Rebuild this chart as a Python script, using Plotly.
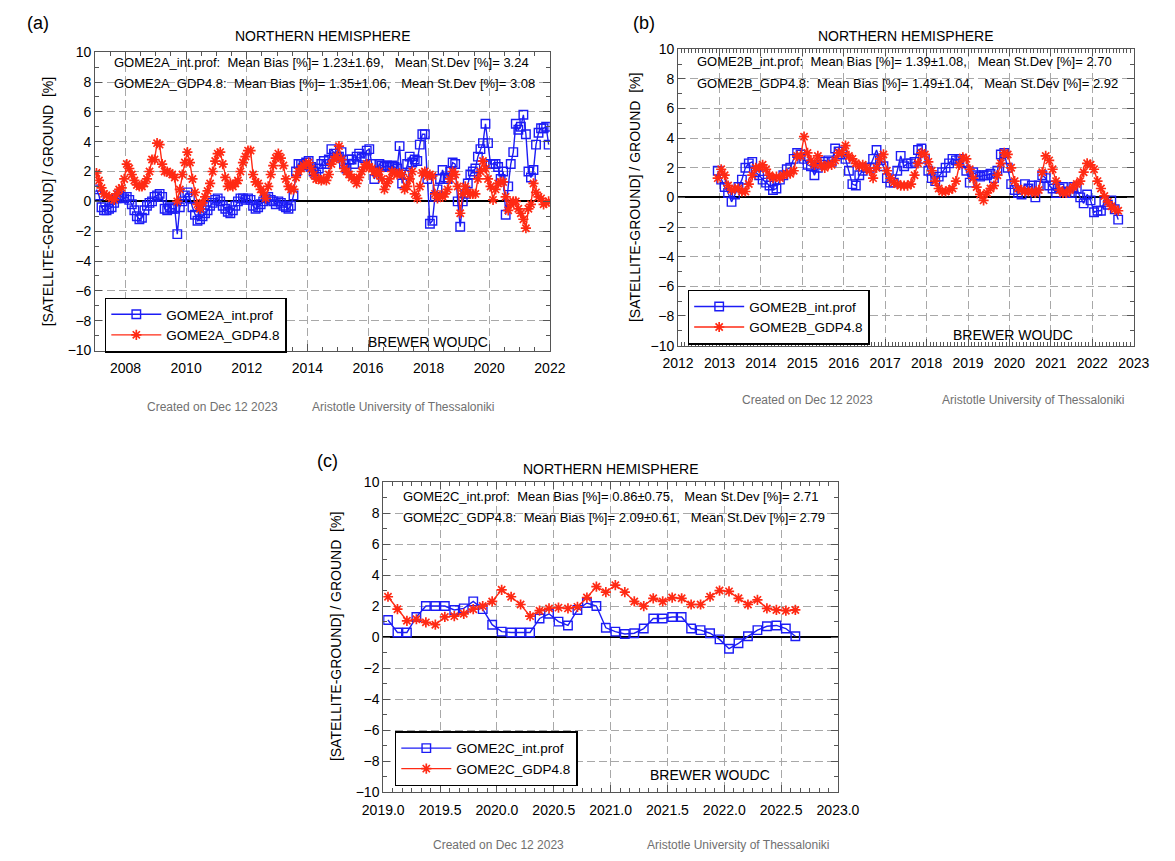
import plotly.graph_objects as go

W, H = 1175, 861
FONT = "Liberation Sans, Arial, Helvetica, sans-serif"
BLUE = "#1c1cf5"
RED = "#ff2a14"

# ---------------- data (monthly means) ----------------
# Panel (a): GOME2A, Jan 2007 - Dec 2021
a_start = (2007, 1)
a_int = [
    0.8, 0.4, -0.4, -0.6, -0.6, -0.5, -0.4, -0.1, 0.2, 0.4, 0.3, 0.2,
    0.3, 0.1, -0.2, -0.6, -1.0, -1.2, -1.1, -0.6, -0.3, -0.1, 0.0, 0.3,
    0.4, 0.5, 0.3, -0.5, -0.6, -0.4, -0.5, -0.5, -2.2, -0.4, 0.0, 0.4,
    0.6, 0.2, -0.4, -0.9, -1.3, -1.2, -1.0, -0.8, -0.6, -0.3, -0.1, 0.1,
    0.2, 0.0, -0.3, -0.5, -0.7, -0.8, -0.6, -0.3, 0.0, 0.2, 0.2, 0.1,
    0.2, 0.1, -0.3, -0.5, -0.4, -0.2, 0.0, 0.2, 0.3, 0.1, 0.0, -0.2,
    0.0, -0.1, -0.3, -0.4, -0.5, -0.3, 0.4, 2.0, 2.5, 2.5, 2.4, 2.6,
    2.7, 2.3, 2.0, 1.8, 2.2, 2.5, 2.7, 2.5, 2.8, 3.5, 3.2, 3.0,
    3.0, 3.3, 2.5, 2.2, 2.8, 2.8, 2.5, 3.0, 3.2, 3.0, 2.9, 3.4,
    3.5, 2.5, 1.5, 2.0, 2.5, 2.4, 2.3, 2.4, 2.3, 2.4, 2.3, 2.2,
    3.7, 1.2, 1.8, 2.5, 3.0, 2.6, 2.8, 2.7, 3.8, 4.5, 4.5, 1.5,
    -1.5, -1.3, 0.3, 0.8, 1.5, 2.1, 1.6, 1.5, 2.0, 2.6, 2.5, 0.0,
    -1.7, 0.0, 0.5, 1.2, 1.8, 2.0, 2.2, 3.0, 3.5, 3.9, 5.2, 3.9,
    2.5, 2.5, 2.5, 2.3, 1.5, 2.0, -0.9, 1.0, 2.5, 3.3, 5.2, 4.8,
    5.0, 5.8, 4.5, 2.0, 1.6, 2.1, 3.8, 4.6, 4.9, 4.9, 5.0, 3.8,
]
a_gdp = [
    1.9, 1.4, 0.9, 0.5, 0.4, 0.3, 0.2, 0.1, 0.5, 0.8, 0.9, 1.5,
    2.5, 2.2, 1.8, 1.4, 1.1, 1.0, 1.0, 1.2, 1.5, 2.0, 2.8, 2.8,
    3.9, 3.8, 2.5, 2.0, 2.0, 1.9, 1.8, 1.6, 0.0, 0.8, 1.8, 2.6,
    3.3, 2.6, 1.5, 0.6, -0.2, -0.5, -0.1, 0.3, 0.7, 1.2, 2.0, 2.7,
    3.2, 3.3, 2.5, 1.6, 1.0, 1.2, 1.0, 1.2, 1.4, 2.0, 2.6, 3.0,
    3.4, 3.4, 1.8, 1.3, 1.2, 0.8, 0.6, 0.2, 1.0, 1.8, 2.4, 2.9,
    3.2, 2.9, 2.4, 1.5, 1.0, 0.8, 0.8, 1.6, 2.0, 2.2, 2.4, 2.5,
    2.6, 2.2, 1.8, 1.5, 1.5, 1.4, 1.5, 1.4, 1.8, 2.5, 2.8, 3.0,
    3.7, 2.8, 2.2, 2.0, 1.8, 1.6, 1.5, 1.2, 1.6, 2.0, 2.3, 2.5,
    2.3, 2.2, 2.0, 1.8, 2.0, 1.5, 0.8, 1.2, 1.5, 2.0, 1.9, 1.8,
    1.9, 1.8, 0.8, 1.0, 1.5, 2.0, 0.5, 0.2, 1.0, 1.9, 2.0, 1.7,
    1.8, 1.7, 0.5, 0.2, 0.4, 0.3, 0.5, 0.8, 1.5, 2.0, 1.8, 1.0,
    -0.8, 0.5, 1.0, 0.6, 0.5, 0.5, 0.5, 1.5, 2.0, 2.7, 2.2, 1.5,
    1.0, 0.1, 0.8, 1.2, 1.3, 1.3, 0.3, -0.6, -0.2, 0.0, 0.0, -0.5,
    -0.8, -1.2, -1.8, -0.5, -0.2, 1.2, 0.6, 0.3, 0.2, -0.2, -0.1, 0.0,
]

# Panel (b): GOME2B, Dec 2012 - Aug 2022
b_start = (2012, 12)
b_int = [
    1.8,
    1.2, 0.7, 0.3, -0.3, 0.2, 0.7, 1.2, 2.0, 2.3, 2.4, 1.7, 1.5,
    1.2, 1.0, 0.8, 0.5, 0.6, 1.2, 1.5, 1.9, 2.0, 2.6, 3.0, 2.9,
    2.6, 2.2, 2.1, 1.5, 2.0, 2.2, 2.4, 2.5, 2.4, 3.3, 3.1, 2.9,
    2.6, 1.8, 0.9, 0.8, 1.5, 1.8, 2.0, 2.0, 2.6, 3.2, 2.5, 2.1,
    1.3, 1.0, 1.0, 1.8, 2.8, 2.1, 2.3, 2.3, 2.4, 3.2, 3.3, 2.6,
    1.8, 1.3, 1.1, 1.4, 1.7, 2.0, 2.3, 2.6, 2.5, 2.6, 2.3, 1.8,
    1.0, 1.7, 1.5, 1.4, 1.5, 1.5, 1.6, 1.3, 1.8, 2.9, 3.0, 2.0,
    0.9, 0.5, 0.3, 0.2, 0.9, 0.6, 0.8, 0.0, 0.8, 1.5, 1.3, 0.8,
    0.6, 0.3, 0.6, 0.7, 0.4, 0.3, 0.7, 0.6, 0.0, -0.4, 0.2, -0.2,
    -1.0, -0.9, -0.9, -0.3, -0.5, -0.2, -0.8, -1.5,
]
b_gdp = [
    1.3,
    1.9, 1.5, 0.8, 0.5, 0.6, 0.6, 0.4, 0.4, 0.9, 1.5, 2.0, 2.0,
    2.2, 1.9, 1.5, 1.3, 1.4, 1.3, 1.5, 1.6, 1.6, 1.8, 2.8, 2.8,
    4.1, 3.0, 2.5, 2.2, 2.8, 2.2, 2.0, 2.2, 2.2, 2.5, 3.0, 3.0,
    3.5, 2.8, 2.6, 2.3, 2.1, 2.2, 2.0, 1.8, 1.3, 2.0, 2.6, 2.9,
    1.8, 1.3, 1.0, 0.9, 0.8, 0.8, 0.8, 0.9, 1.5, 2.3, 3.0, 2.9,
    2.4, 1.8, 1.1, 0.6, 0.4, 0.4, 0.5, 0.6, 1.1, 2.2, 2.7, 2.6,
    1.9, 1.3, 0.7, 0.2, -0.2, 0.3, 0.6, 0.8, 1.5, 2.3, 3.0, 2.9,
    2.0, 1.1, 0.6, 0.5, 0.4, 0.4, 0.4, 0.3, 0.5, 1.7, 2.8, 2.5,
    1.9, 1.1, 0.5, 0.3, 0.3, 0.5, 0.7, 0.9, 1.1, 1.7, 2.3, 2.2,
    1.9, 1.1, 0.6, 0.1, -0.3, -0.6, -0.8, -0.9,
]

# Panel (c): GOME2C, Jan 2019 - Aug 2022
c_start = (2019, 1)
c_int = [
    1.1, 0.3, 0.3, 1.3, 2.0, 2.0, 2.0, 1.75, 1.85, 2.3, 1.8, 0.8,
    0.35, 0.3, 0.3, 0.3, 1.2, 1.5, 1.0, 0.75, 1.75, 2.2, 2.0, 0.6,
    0.35, 0.2, 0.25, 0.55, 1.2, 1.2, 1.3, 1.3, 0.55, 0.45, 0.25, -0.15,
    -0.75, -0.4, 0.05, 0.45, 0.7, 0.75, 0.55, 0.05,
]
c_gdp = [
    2.6, 1.8, 1.05, 1.15, 0.95, 0.8, 1.3, 1.35, 1.5, 1.8, 2.0, 2.3,
    3.05, 2.6, 2.1, 1.35, 1.7, 1.85, 1.9, 1.85, 1.95, 2.55, 3.25, 2.9,
    3.35, 2.9, 2.3, 2.0, 2.5, 2.3, 2.55, 2.5, 2.1, 2.1, 2.6, 3.0,
    2.95, 2.5, 2.1, 2.4, 1.85, 1.75, 1.7, 1.75,
]

stats = {
    "a": ["GOME2A_int.prof:  Mean Bias [%]= 1.23\u00b11.69,   Mean St.Dev [%]= 3.24",
          "GOME2A_GDP4.8:  Mean Bias [%]= 1.35\u00b11.06,   Mean St.Dev [%]= 3.08"],
    "b": ["GOME2B_int.prof:  Mean Bias [%]= 1.39\u00b11.08,   Mean St.Dev [%]= 2.70",
          "GOME2B_GDP4.8:  Mean Bias [%]= 1.49\u00b11.04,   Mean St.Dev [%]= 2.92"],
    "c": ["GOME2C_int.prof:  Mean Bias [%]= 0.86\u00b10.75,   Mean St.Dev [%]= 2.71",
          "GOME2C_GDP4.8:  Mean Bias [%]= 2.09\u00b10.61,   Mean St.Dev [%]= 2.79"],
}


def month_axis(start, n):
    y, m = start
    out = []
    for _ in range(n):
        out.append(y + (m - 0.5) / 12.0)
        m += 1
        if m > 12:
            m, y = 1, y + 1
    return out


def px(x):
    return x / W


def py(y):
    return 1 - y / H


fig = go.Figure()

panels = [
    ("a", a_start, a_int, a_gdp, "x", "y", "legend"),
    ("b", b_start, b_int, b_gdp, "x2", "y2", "legend2"),
    ("c", c_start, c_int, c_gdp, "x3", "y3", "legend3"),
]
for key, start, s_int, s_gdp, xa, ya, lg in panels:
    sat = "GOME2" + key.upper()
    fig.add_trace(go.Scatter(
        x=month_axis(start, len(s_int)), y=s_int, mode="lines+markers",
        name=sat + "_int.prof", xaxis=xa, yaxis=ya, legend=lg,
        line=dict(color=BLUE, width=1.4),
        marker=dict(symbol="square-open", size=8.5, color=BLUE,
                    line=dict(width=1.4, color=BLUE))))
    fig.add_trace(go.Scatter(
        x=month_axis(start, len(s_gdp)), y=s_gdp, mode="lines+markers",
        name=sat + "_GDP4.8", xaxis=xa, yaxis=ya, legend=lg,
        line=dict(color=RED, width=1.4),
        marker=dict(symbol="asterisk-open", size=8.5, color=RED,
                    line=dict(width=1.7, color=RED))))

AX = "#555555"
GRID = "#a8a8a8"


def xaxis(dom, rng, tick0, dtick, mdt, fmt, anchor):
    return dict(domain=dom, range=rng, tick0=tick0, dtick=dtick, tickformat=fmt,
                anchor=anchor, showline=True, linecolor=AX, linewidth=1,
                mirror="ticks", ticks="inside", ticklen=7, tickcolor=AX,
                showgrid=True, gridcolor=GRID, griddash="8px,4px", gridwidth=1,
                zeroline=False, ticklabelstandoff=5,
                tickfont=dict(size=14, family=FONT, color="black"),
                minor=dict(tick0=tick0, dtick=mdt, ticks="inside", ticklen=4,
                           tickcolor=AX, showgrid=False),
                fixedrange=True)


def yaxis(dom, anchor):
    return dict(domain=dom, range=[-10, 10], tick0=0, dtick=2, anchor=anchor,
                showline=True, linecolor=AX, linewidth=1, mirror="ticks",
                ticks="inside", ticklen=7, tickcolor=AX,
                showgrid=True, gridcolor=GRID, griddash="8px,4px", gridwidth=1,
                zeroline=True, zerolinecolor="black", zerolinewidth=1.5,
                tickfont=dict(size=14, family=FONT, color="black"),
                minor=dict(dtick=1, ticks="inside", ticklen=4, tickcolor=AX,
                           showgrid=False),
                fixedrange=True)


# plot boxes in pixels: (left, right, top, bottom)
box_a = (77, 549, 45, 349)
box_b = (682, 1155, 42, 344)
box_c = (376, 848, 483, 799)


def dom(b):
    return [px(b[0]), px(b[1])], [py(b[3]), py(b[2])]


dxa, dya = dom(box_a)
dxb, dyb = dom(box_b)
dxc, dyc = dom(box_c)

layout = dict(
    width=W, height=H, margin=dict(l=0, r=0, t=0, b=0), autosize=False,
    paper_bgcolor="white", plot_bgcolor="white", showlegend=True,
    font=dict(family=FONT, color="black"),
    xaxis=xaxis(dxa, [2007, 2022.0001], 2008, 2, 0.5, "d", "y"),
    yaxis=yaxis(dya, "x"),
    xaxis2=xaxis(dxb, [2012, 2023.0001], 2012, 1, 1 / 12, "d", "y2"),
    yaxis2=yaxis(dyb, "x2"),
    xaxis3=xaxis(dxc, [2019, 2023.0001], 2019, 0.5, 1 / 12, ".1f", "y3"),
    yaxis3=yaxis(dyc, "x3"),
)


def legend(x, y):
    return dict(x=px(x), y=py(y), xanchor="left", yanchor="top",
                bordercolor="black", borderwidth=1.5, bgcolor="white",
                font=dict(size=13.5, family=FONT, color="black"),
                tracegroupgap=0, itemwidth=50)


layout["legend"] = legend(87, 295)
layout["legend2"] = legend(692, 287)
layout["legend3"] = legend(388, 737)

fig.update_layout(**layout)

anns = []


def ann(text, x, y, size=14, color="black", xanchor="center", angle=0):
    anns.append(dict(text=text, x=px(x), y=py(y), xref="paper", yref="paper",
                     xanchor=xanchor, yanchor="middle", showarrow=False,
                     textangle=angle,
                     font=dict(size=size, family=FONT, color=color)))


NB = lambda s: s.replace(" ", "\u00a0")

# panel labels
ann("(a)", 18, 15, size=18)
ann("(b)", 647, 15, size=18)
ann("(c)", 318, 462, size=18)

specs = [
    ("a", box_a, 29, (94, 56, 77), 422, 340, (199, 407), (397, 407), 28),
    ("b", box_b, 29, (700, 55, 77), 1030, 333, (816, 399), (1051, 399), 638),
    ("c", box_c, 470, (394, 498, 519), 715, 782, (496, 853), (745, 853), 327),
]
for key, b, ty, st, bw_x, bw_y, cr, au, ytx in specs:
    cx = (b[0] + b[1]) / 2
    ann("NORTHERN HEMISPHERE", cx, ty, size=14)
    ann(NB(stats[key][0]), st[0], st[1], size=13, xanchor="left")
    ann(NB(stats[key][1]), st[0], st[2], size=13, xanchor="left")
    ann("BREWER WOUDC", bw_x, bw_y, size=14)
    ann("Created on Dec 12 2023", cr[0], cr[1], size=12, color="#707070")
    ann("Aristotle University of Thessaloniki", au[0], au[1], size=12, color="#707070")
    ann(NB("[SATELLITE-GROUND] / GROUND  [%]"), ytx, (b[2] + b[3]) / 2, size=14, angle=-90)

fig.update_layout(annotations=anns)

fig.write_html("out.html")
